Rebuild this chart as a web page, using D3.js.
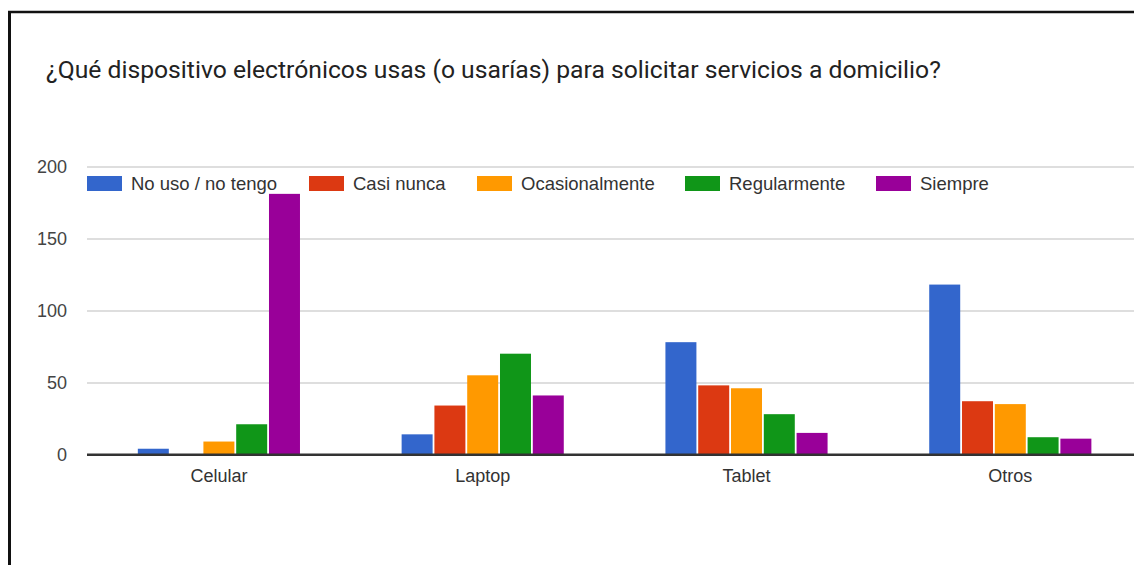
<!DOCTYPE html>
<html>
<head>
<meta charset="utf-8">
<script src="https://cdn.jsdelivr.net/npm/d3@7"></script>
<style>
  html, body { margin: 0; padding: 0; background: #fff; }
  svg { display: block; }
</style>
</head>
<body>
<svg id="chart" width="1134" height="565"></svg>
<script>
// Survey responses: device used to order home-delivery services
const categories = ["Celular", "Laptop", "Tablet", "Otros"];
const seriesNames = ["No uso / no tengo", "Casi nunca", "Ocasionalmente", "Regularmente", "Siempre"];
const seriesColors = ["#3366cc", "#dc3912", "#ff9900", "#109618", "#990099"];

// One array per frequency answer, ordered as in `categories`
const noUso = [4, 14, 78, 118];
const casiNunca = [0, 34, 48, 37];
const ocasionalmente = [9, 55, 46, 35];
const regularmente = [21, 70, 28, 12];
const siempre = [181, 41, 15, 11];

const yTicks = [0, 50, 100, 150, 200];
const titleText = "¿Qué dispositivo electrónicos usas (o usarías) para solicitar servicios a domicilio?";

const seriesValues = [noUso, casiNunca, ocasionalmente, regularmente, siempre];

const svg = d3.select("#chart");
const W = 1134, H = 565;
const chartFont = "'Liberation Sans', Arial, sans-serif";

// Frame
svg.append("rect").attr("width", W).attr("height", H).attr("fill", "#fff");
svg.append("line").attr("x1", 8).attr("x2", W).attr("y1", 12).attr("y2", 12)
  .attr("stroke", "#111").attr("stroke-width", 2.5);
svg.append("line").attr("x1", 9.5).attr("x2", 9.5).attr("y1", 11).attr("y2", H)
  .attr("stroke", "#111").attr("stroke-width", 3);

// Title
svg.append("text")
  .attr("x", 46).attr("y", 78)
  .attr("font-family", "Roboto, 'Noto Sans', sans-serif")
  .attr("font-size", 24.7)
  .attr("fill", "#222")
  .text(titleText);

// Scales
const plotLeft = 87, step = 263.8;
const x0 = d3.scaleBand()
  .domain(categories)
  .range([plotLeft, plotLeft + step * categories.length])
  .paddingInner(0).paddingOuter(0);

const x1 = d3.scaleBand()
  .domain(seriesNames)
  .range([0, x0.bandwidth()])
  .paddingInner(0.055)
  .paddingOuter(1.55);

const y = d3.scaleLinear().domain([0, 200]).range([454.5, 166.5]);

// Gridlines
const grid = svg.append("g")
  .attr("transform", `translate(${plotLeft},0)`)
  .call(d3.axisLeft(y).tickValues(yTicks).tickSize(-(W - plotLeft)).tickFormat(""));
grid.select(".domain").remove();
grid.selectAll(".tick line")
  .attr("stroke", d => d === 0 ? "#333" : "#d3d3d3")
  .attr("stroke-width", d => d === 0 ? 2 : 1.3);

// Y tick labels
const yAxis = svg.append("g")
  .attr("transform", "translate(67,0)")
  .call(d3.axisLeft(y).tickValues(yTicks).tickSize(0).tickPadding(0));
yAxis.select(".domain").remove();
yAxis.selectAll("text")
  .attr("font-family", chartFont)
  .attr("font-size", 18)
  .attr("fill", "#444");

// Bars
const groups = svg.append("g").selectAll("g")
  .data(categories)
  .join("g")
  .attr("transform", d => `translate(${x0(d)},0)`);

groups.selectAll("rect")
  .data((c, ci) => seriesNames.map((s, si) => ({ s, si, v: seriesValues[si][ci] })))
  .join("rect")
  .attr("x", d => x1(d.s))
  .attr("width", x1.bandwidth())
  .attr("y", d => y(d.v))
  .attr("height", d => y(0) - y(d.v))
  .attr("fill", d => seriesColors[d.si]);

// Baseline drawn over the bars
svg.append("line")
  .attr("x1", plotLeft).attr("x2", W)
  .attr("y1", y(0)).attr("y2", y(0))
  .attr("stroke", "#333").attr("stroke-width", 2);

// Category labels
const xAxis = svg.append("g")
  .attr("transform", `translate(0,${y(0)})`)
  .call(d3.axisBottom(x0).tickSize(0).tickPadding(15));
xAxis.select(".domain").remove();
xAxis.selectAll("text")
  .attr("font-family", chartFont)
  .attr("font-size", 18)
  .attr("fill", "#333");

// Legend
const legendX = [87, 309, 477, 685, 876];
const legend = svg.append("g").selectAll("g")
  .data(seriesNames)
  .join("g")
  .attr("transform", (d, i) => `translate(${legendX[i]},176)`);
legend.append("rect")
  .attr("width", 35).attr("height", 15)
  .attr("fill", (d, i) => seriesColors[i]);
legend.append("text")
  .attr("x", 44).attr("y", 8).attr("dy", "0.35em")
  .attr("font-family", chartFont)
  .attr("font-size", 18.5)
  .attr("fill", "#333")
  .text(d => d);
</script>
</body>
</html>
